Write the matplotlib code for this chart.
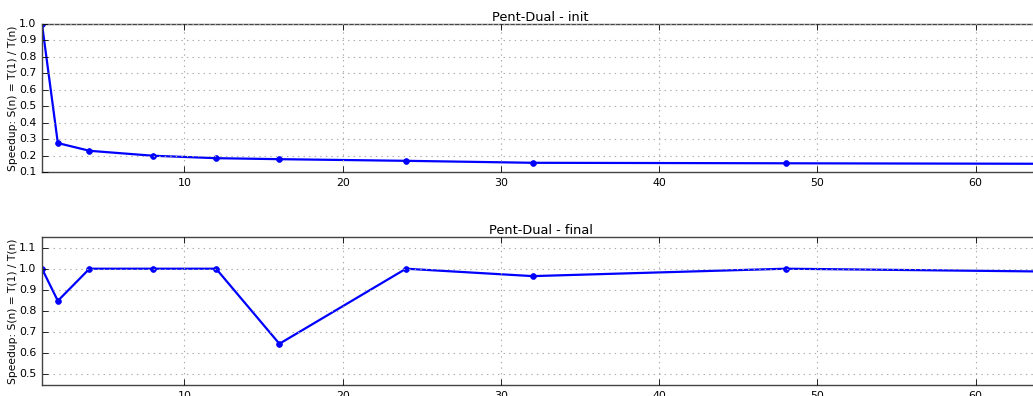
import matplotlib
matplotlib.use("Agg")
import matplotlib.pyplot as plt

plt.style.use("classic")

threads = [1, 2, 4, 8, 12, 16, 24, 32, 48, 64]
speedup_init = [1.0, 0.276, 0.229, 0.199, 0.184, 0.178, 0.168, 0.156, 0.153, 0.150]
speedup_final = [1.0, 0.848, 1.0, 1.0, 1.0, 0.645, 1.0, 0.965, 1.0, 0.987]

titles = ["Pent-Dual - init", "Pent-Dual - final"]
ylims = [(0.1, 1.0), (0.45, 1.15)]
yticks = [[0.1, 0.2, 0.3, 0.4, 0.5, 0.6, 0.7, 0.8, 0.9, 1.0],
          [0.5, 0.6, 0.7, 0.8, 0.9, 1.0, 1.1]]
ylabel = "Speedup: S(n) = T(1) / T(n)"

W, H = 1033, 396
fig = plt.figure(figsize=(W / 100, H / 100), dpi=100, facecolor="white")

# axes boxes in pixels: left, top, right, bottom
boxes = [(42, 24, 1039, 172), (42, 237, 1039, 385)]

for box, title, series, ylim, yt in zip(boxes, titles, [speedup_init, speedup_final], ylims, yticks):
    l, t, r, b = box
    ax = fig.add_axes([l / W, 1 - b / H, (r - l) / W, (b - t) / H])
    ax.plot(threads, series, color="b", linewidth=1.6, marker="o",
            markersize=4.2, markeredgecolor="b", markerfacecolor="b")
    ax.set_xlim(1, 64)
    ax.set_ylim(*ylim)
    ax.set_yticks(yt)
    ax.set_xticks([10, 20, 30, 40, 50, 60])
    ax.grid(True, color="#aaaaaa", linestyle=":", linewidth=0.8)
    ax.set_title(title, fontsize=9.3, pad=2)
    ax.set_ylabel(ylabel, fontsize=7.7, labelpad=1)
    ax.tick_params(labelsize=7.9, direction="in", length=4, width=0.6, pad=4)
    for s in ax.spines.values():
        s.set_color("#444444")
        s.set_linewidth(1.0)

fig.savefig("out.png", dpi=100, facecolor="white")
